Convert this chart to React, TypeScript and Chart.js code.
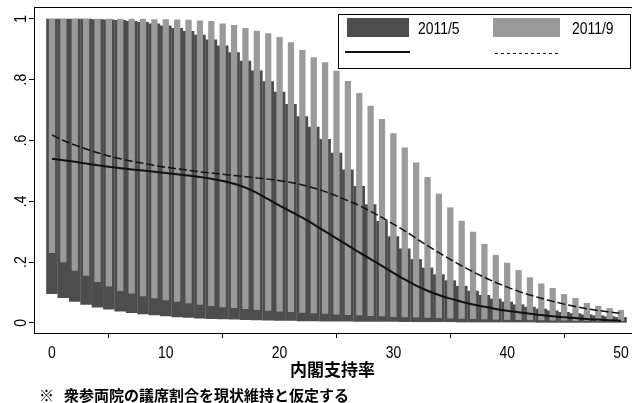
import React, { useEffect, useRef } from "react";
import { Chart, registerables } from "chart.js";

Chart.register(...registerables);

// ---------- data ----------
const supportRate = [
  0, 1, 2, 3, 4, 5, 6, 7, 8, 9, 10, 11, 12, 13, 14, 15, 16, 17, 18, 19, 20,
  21, 22, 23, 24, 25, 26, 27, 28, 29, 30, 31, 32, 33, 34, 35, 36, 37, 38, 39, 40,
  41, 42, 43, 44, 45, 46, 47, 48, 49, 50,
];

// 2011/5 range (lower / upper)
const mayLow = [
  0.095, 0.082, 0.07, 0.06, 0.051, 0.044, 0.038, 0.033, 0.029, 0.025, 0.022,
  0.019, 0.017, 0.015, 0.013, 0.012, 0.011, 0.01, 0.009, 0.008, 0.007,
  0.007, 0.006, 0.006, 0.005, 0.005, 0.005, 0.004, 0.004, 0.004, 0.004,
  0.003, 0.003, 0.003, 0.003, 0.003, 0.002, 0.002, 0.002, 0.002, 0.002,
  0.002, 0.002, 0.001, 0.001, 0.001, 0.001, 0.001, 0.001, 0.001, 0.001,
];
const mayHigh = [
  1.0, 1.0, 1.0, 1.0, 0.999, 0.998, 0.996, 0.993, 0.99, 0.985, 0.978,
  0.97, 0.96, 0.948, 0.932, 0.912, 0.89, 0.862, 0.83, 0.795, 0.76,
  0.72, 0.68, 0.645, 0.605, 0.56, 0.505, 0.45, 0.39, 0.335, 0.285,
  0.245, 0.21, 0.182, 0.16, 0.14, 0.122, 0.106, 0.092, 0.08, 0.07,
  0.061, 0.053, 0.047, 0.041, 0.036, 0.032, 0.028, 0.025, 0.022, 0.019,
];

// 2011/9 range (lower / upper)
const sepLow = [
  0.23, 0.2, 0.172, 0.155, 0.135, 0.12, 0.105, 0.097, 0.088, 0.081, 0.075,
  0.07, 0.065, 0.06, 0.056, 0.052, 0.049, 0.046, 0.043, 0.04, 0.038,
  0.036, 0.034, 0.032, 0.03, 0.028, 0.026, 0.025, 0.023, 0.022, 0.02,
  0.019, 0.018, 0.017, 0.016, 0.015, 0.014, 0.013, 0.012, 0.011, 0.01,
  0.01, 0.009, 0.009, 0.008, 0.008, 0.007, 0.007, 0.006, 0.006, 0.006,
];
const sepHigh = [
  1.0, 1.0, 1.0, 1.0, 1.0, 1.0, 1.0, 1.0, 1.0, 0.999, 0.999,
  0.998, 0.997, 0.995, 0.993, 0.985, 0.98, 0.97, 0.961, 0.953, 0.94,
  0.923, 0.898, 0.874, 0.857, 0.829, 0.796, 0.756, 0.714, 0.671, 0.624,
  0.577, 0.528, 0.48, 0.425, 0.38, 0.336, 0.3, 0.26, 0.224, 0.198,
  0.174, 0.15, 0.13, 0.115, 0.095, 0.082, 0.066, 0.056, 0.049, 0.043,
];

// mean lines
const mayMean = [
  0.54, 0.535, 0.53, 0.524, 0.519, 0.514, 0.509, 0.505, 0.501, 0.497, 0.493,
  0.489, 0.485, 0.48, 0.474, 0.467, 0.458, 0.445, 0.428, 0.407, 0.386,
  0.366, 0.346, 0.324, 0.301, 0.278, 0.255, 0.232, 0.21, 0.188, 0.165,
  0.143, 0.123, 0.106, 0.092, 0.08, 0.07, 0.061, 0.053, 0.046, 0.04,
  0.035, 0.03, 0.026, 0.022, 0.019, 0.016, 0.013, 0.011, 0.009, 0.007,
];
const sepMean = [
  0.618, 0.6, 0.585, 0.572, 0.56, 0.549, 0.54, 0.532, 0.525, 0.518, 0.512,
  0.507, 0.502, 0.497, 0.493, 0.489, 0.485, 0.481, 0.477, 0.473, 0.468,
  0.462, 0.454, 0.444, 0.432, 0.418, 0.402, 0.386, 0.367, 0.347, 0.325,
  0.303, 0.278, 0.254, 0.231, 0.209, 0.188, 0.168, 0.15, 0.133, 0.118,
  0.104, 0.092, 0.081, 0.071, 0.062, 0.054, 0.047, 0.041, 0.036, 0.031,
];

const xTickValues = [0, 10, 20, 30, 40, 50];
const xTickLabels = ["0", "10", "20", "30", "40", "50"];
const yTickValues = [0, 0.2, 0.4, 0.6, 0.8, 1];
const yTickLabels = ["0", ".2", ".4", ".6", ".8", "1"];
const seriesLabels = ["2011/5", "2011/9"];
const xTitle = "内閣支持率";
const footnoteMark = "※";
const footnoteText = "衆参両院の議席割合を現状維持と仮定する";

// ---------- styles ----------
const SANS = '"Liberation Sans", Arial, sans-serif';
const NARROW_SCALE = 0.82;
const CJK = '"Noto Sans CJK JP", "Noto Sans CJK SC", sans-serif';
const DARK = "#4d4d4d";
const LIGHT = "#9a9a9a";

function narrowText(
  ctx: CanvasRenderingContext2D,
  text: string,
  x: number,
  y: number,
  align: CanvasTextAlign,
  rotate = 0
) {
  ctx.save();
  ctx.translate(x, y);
  if (rotate) ctx.rotate(rotate);
  ctx.scale(NARROW_SCALE, 1);
  ctx.textAlign = align;
  ctx.fillText(text, 0, 0);
  ctx.restore();
}

const overlayPlugin = {
  id: "overlay",
  afterDraw(chart: any) {
    const ctx = chart.ctx as CanvasRenderingContext2D;
    const area = chart.chartArea;
    const xScale = chart.scales.x;
    const yScale = chart.scales.y;
    ctx.save();

    // top frame line
    ctx.strokeStyle = "#000";
    ctx.lineWidth = 1;
    ctx.beginPath();
    ctx.moveTo(area.left, Math.round(area.top) + 0.5);
    ctx.lineTo(chart.width, Math.round(area.top) + 0.5);
    ctx.stroke();

    ctx.fillStyle = "#000";
    ctx.font = `17px ${SANS}`;
    ctx.textBaseline = "alphabetic";

    // rotated y tick labels
    yTickValues.forEach((v, i) => {
      const py = yScale.getPixelForValue(v);
      narrowText(ctx, yTickLabels[i], area.left - 8, py, "center", -Math.PI / 2);
    });

    // x tick labels
    xTickValues.forEach((v, i) => {
      const px = xScale.getPixelForValue(v);
      narrowText(ctx, xTickLabels[i], px, 358, "center");
    });

    // legend
    const lx = 338, ly = 14, lw = 292, lh = 54;
    ctx.fillStyle = "#fff";
    ctx.fillRect(lx, ly, lw, lh);
    ctx.strokeStyle = "#000";
    ctx.lineWidth = 1;
    ctx.strokeRect(lx + 0.5, ly + 0.5, lw, lh);

    ctx.fillStyle = DARK;
    ctx.fillRect(347, 18, 62, 19);
    ctx.fillStyle = LIGHT;
    ctx.fillRect(493, 18, 67, 19);

    ctx.fillStyle = "#000";
    ctx.font = `17px ${SANS}`;
    ctx.textBaseline = "alphabetic";
    narrowText(ctx, seriesLabels[0], 418, 34, "left");
    narrowText(ctx, seriesLabels[1], 572, 34, "left");

    ctx.strokeStyle = "#111";
    ctx.lineWidth = 2;
    ctx.beginPath();
    ctx.moveTo(345, 52);
    ctx.lineTo(410, 52);
    ctx.stroke();

    ctx.lineWidth = 1;
    ctx.setLineDash([3, 3]);
    ctx.beginPath();
    ctx.moveTo(495, 53.5);
    ctx.lineTo(558, 53.5);
    ctx.stroke();
    ctx.setLineDash([]);

    // footnote
    ctx.fillStyle = "#000";
    ctx.font = `bold 15px ${CJK}`;
    ctx.textAlign = "left";
    ctx.textBaseline = "middle";
    ctx.fillText(footnoteMark, 39, 395);
    ctx.fillText(footnoteText, 64, 395);

    ctx.restore();
  },
};

export default function App() {
  const canvasRef = useRef<HTMLCanvasElement | null>(null);

  useEffect(() => {
    const canvas = canvasRef.current;
    if (!canvas) return;

    const chart = new Chart(canvas, {
      type: "bar",
      data: {
        datasets: [
          {
            type: "line",
            label: "2011/9 mean",
            data: supportRate.map((x, i) => ({ x, y: sepMean[i] })),
            borderColor: "#111",
            borderWidth: 1.5,
            borderDash: [8, 3],
            pointRadius: 0,
            fill: false,
            cubicInterpolationMode: "monotone",
            order: 0,
          } as any,
          {
            type: "line",
            label: "2011/5 mean",
            data: supportRate.map((x, i) => ({ x, y: mayMean[i] })),
            borderColor: "#111",
            borderWidth: 2,
            pointRadius: 0,
            fill: false,
            cubicInterpolationMode: "monotone",
            order: 1,
          } as any,
          {
            type: "bar",
            label: seriesLabels[1],
            data: supportRate.map((x, i) => ({ x, y: [sepLow[i], sepHigh[i]] })),
            backgroundColor: LIGHT,
            borderWidth: 0,
            barPercentage: 0.55,
            categoryPercentage: 1,
            grouped: false,
            order: 2,
          } as any,
          {
            type: "bar",
            label: seriesLabels[0],
            data: supportRate.map((x, i) => ({ x, y: [mayLow[i], mayHigh[i]] })),
            backgroundColor: DARK,
            borderWidth: 0,
            barPercentage: 1.02,
            categoryPercentage: 1,
            grouped: false,
            order: 3,
          } as any,
        ],
      },
      options: {
        responsive: false,
        animation: false,
        layout: { padding: { left: 0, right: 1, top: 7, bottom: 22 } },
        plugins: {
          legend: { display: false },
          tooltip: { enabled: false },
        },
        scales: {
          x: {
            type: "linear",
            min: -1.58,
            max: 50.88,
            offset: false,
            afterBuildTicks: (s: any) => {
              s.ticks = xTickValues.map((v) => ({ value: v }));
            },
            afterFit: (s: any) => {
              s.height = 48;
            },
            grid: {
              drawOnChartArea: false,
              drawTicks: true,
              tickLength: 5,
              color: "#000",
            },
            border: { display: true, color: "#000", width: 1 },
            ticks: { display: false },
            title: {
              display: true,
              text: xTitle,
              color: "#000",
              font: { family: CJK, size: 17, weight: "bold" },
              padding: { top: 0, bottom: 1 },
            },
          },
          y: {
            type: "linear",
            min: -0.033,
            max: 1.039,
            afterBuildTicks: (s: any) => {
              s.ticks = yTickValues.map((v) => ({ value: v }));
            },
            afterFit: (s: any) => {
              s.width = 34;
            },
            grid: {
              drawOnChartArea: false,
              drawTicks: true,
              tickLength: 5,
              color: "#000",
            },
            border: { display: true, color: "#000", width: 1 },
            ticks: { display: false },
          },
        },
      } as any,
      plugins: [overlayPlugin],
    });

    return () => chart.destroy();
  }, []);

  return (
    <div style={{ position: "absolute", left: 0, top: 0, width: 632, height: 403, background: "#fff" }}>
      <canvas ref={canvasRef} width={632} height={403} style={{ display: "block" }} />
    </div>
  );
}
